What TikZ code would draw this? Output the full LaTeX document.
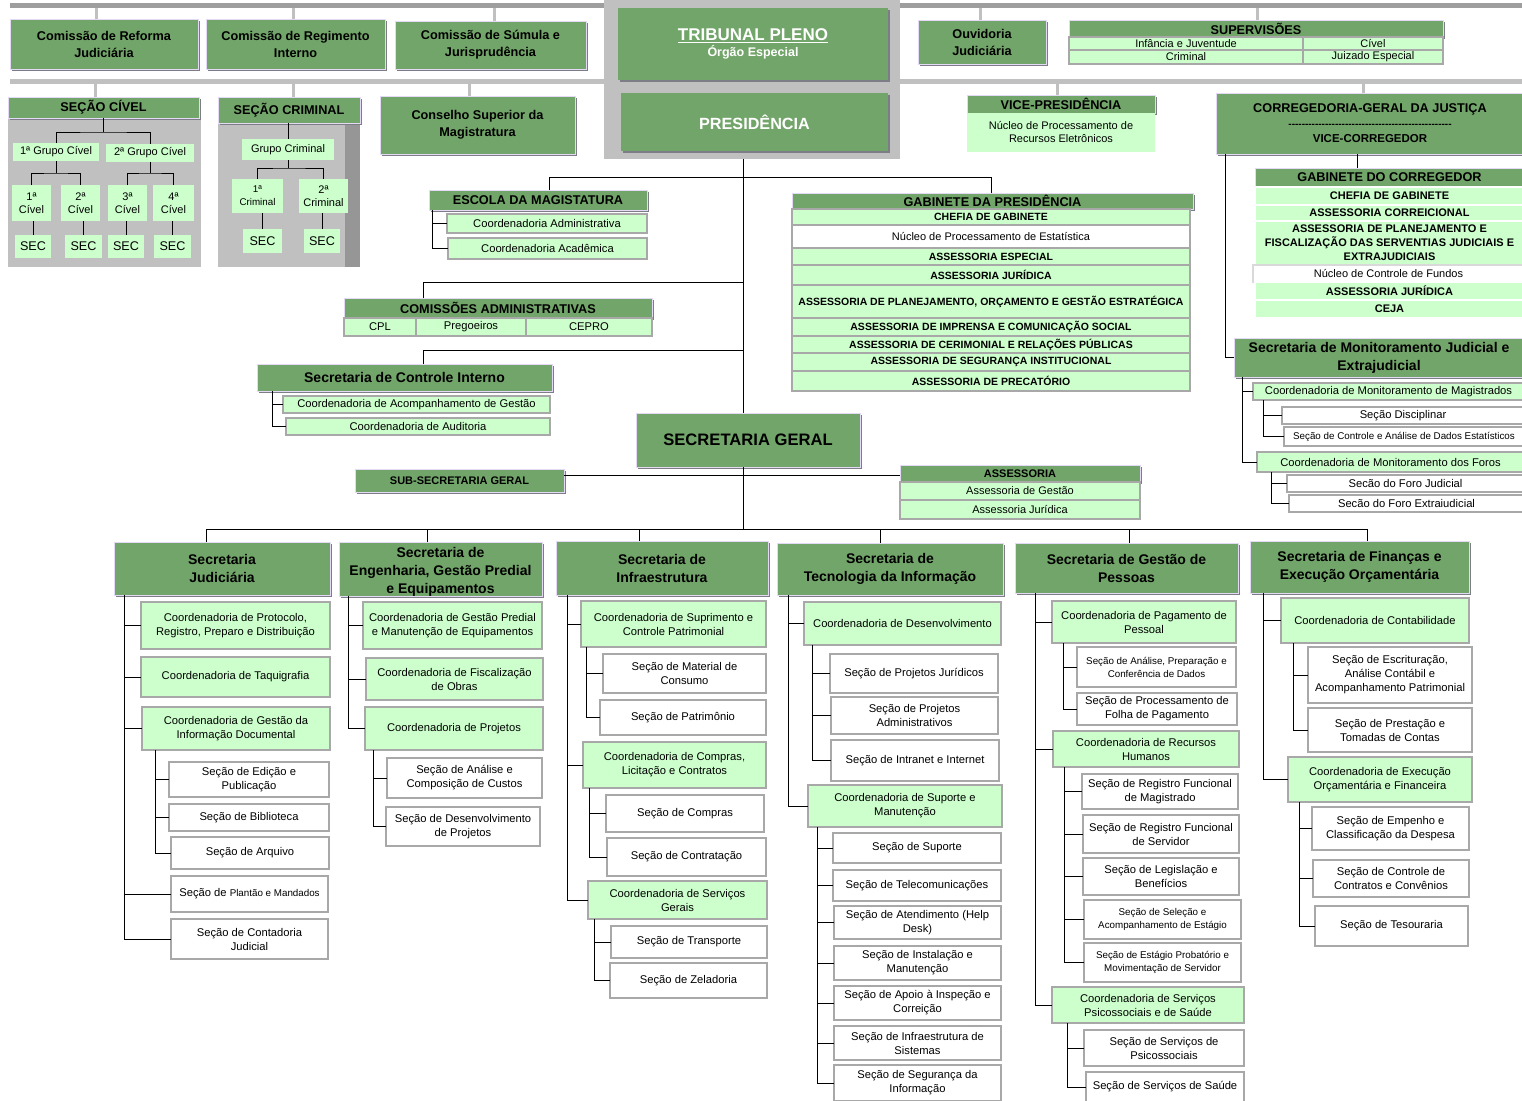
\documentclass[tikz,border=0pt]{standalone}
\usepackage{fontspec}
\setmainfont{Liberation Sans}
\usetikzlibrary{shadows}
\definecolor{dkg}{RGB}{114,165,105}
\definecolor{ltg}{RGB}{204,255,204}
\definecolor{pnl}{RGB}{192,192,192}
\definecolor{tbr}{RGB}{158,158,158}
\definecolor{bdr}{RGB}{168,168,168}
\definecolor{shd}{RGB}{125,125,135}
\definecolor{lav}{RGB}{228,218,245}
\definecolor{dstrip}{RGB}{150,150,150}
\newcommand\obox[7]{\node[#6,anchor=north west,minimum width={(#4-#2)*1pt},minimum height={(#5-#3)*1pt}] (#1) at (#2,#3) {#7};}
\newcommand\obrk[3]{\foreach \chld in {#3}{\draw[ln] ([xshift=#2pt]#1.south west) |- (\chld.west);}}
\newcommand\ofork[4]{\draw[ln] (#1.south) -- ++(0,#4) coordinate (#1j); \draw[ln] (#2.north) |- (#1j) -| (#3.north);}
\newcommand\ogc[4]{\draw[#4] ([xshift=#2pt]#1.north west) -- ([xshift=#2pt]#1.north west |- #3.south);}
\begin{document}
\begin{tikzpicture}[x=1pt,y=-1pt,
  base/.style={inner sep=0.5pt,outer sep=0pt,align=center,text=black},
  dk/.style={base,fill=dkg,draw=lav,line width=0.6pt,drop shadow={shadow xshift=2pt,shadow yshift=-2pt,fill=shd,opacity=1}},
  lt/.style={base,fill=ltg,draw=bdr,line width=1.2pt},
  ltn/.style={base,fill=ltg},
  wt/.style={base,fill=white,draw=bdr,line width=1.2pt},
  pan/.style={base,fill=pnl},
  ln/.style={draw=black,line width=0.8pt},
  gtop/.style={draw=pnl,line width=3pt},
  glow/.style={draw=pnl,line width=3pt},
  fR/.style={font=\fontsize{11.2}{14}\selectfont},
  fM/.style={font=\fontsize{11}{13}\selectfont},
  fS/.style={font=\fontsize{9.8}{13}\selectfont},
  fC/.style={font=\fontsize{12.6}{15}\selectfont},
  fH/.style={font=\bfseries\fontsize{12.7}{17}\selectfont},
  fT/.style={font=\bfseries\fontsize{14}{18}\selectfont},
  fB/.style={font=\bfseries\fontsize{10.5}{14}\selectfont},
  fBB/.style={font=\bfseries\fontsize{11}{14}\selectfont},
]
\useasboundingbox (0,0) rectangle (1522,1100);
\fill[white] (0,0) rectangle (1522,1100);

% ---- bars and grey panels
\obox{tbar}{10}{3}{1522}{8}{pan,fill=tbr}{}
\obox{lbar}{10}{79}{1522}{84}{pan}{}
\obox{ppan}{604}{0}{900}{159}{pan}{}
\obox{scpan}{8}{118}{201}{267}{pan}{}
\obox{scrpan}{218}{123}{360}{267}{pan}{}
\obox{scrstr}{345}{123}{360}{267}{pan,fill=dstrip}{}

% ---- top row
\obox{com1}{10}{19}{198}{69}{dk,fH}{Comissão de  Reforma\\Judiciária}
\obox{com2}{206}{19}{385}{69}{dk,fH}{Comissão de Regimento\\Interno}
\obox{com3}{395}{21}{586}{69}{dk,fH}{Comissão de Súmula e\\Jurisprudência}
\obox{trib}{618}{8}{888}{80}{dk,draw=none,text=white,font=\bfseries}{{\fontsize{17}{21}\selectfont\underline{TRIBUNAL PLENO}}\\[2pt]{\fontsize{12.5}{15}\selectfont Órgão Especial}}
\obox{pres}{621}{93}{888}{151}{dk,draw=none,text=white,font=\bfseries\fontsize{16.2}{19}\selectfont}{PRESIDÊNCIA}
\obox{ouv}{918}{20}{1046}{64}{dk,fH}{Ouvidoria\\Judiciária}
\obox{suph}{1069}{20}{1443}{37}{dk,fH}{SUPERVISÕES}
\obox{sup1}{1069}{37}{1303}{50}{lt,fM}{Infância e Juventude}
\obox{sup2}{1303}{37}{1443}{50}{lt,fM}{Cível}
\obox{sup3}{1069}{50}{1303}{64}{lt,fM}{Criminal}
\obox{sup4}{1303}{50}{1443}{64}{lt,fM}{Juizado Especial}

% ---- second row
\obox{sch}{8}{97}{199}{118}{dk,fH}{SEÇÃO CÍVEL}
\obox{g1}{13}{143}{99}{161}{ltn,fM}{1ª Grupo Cível}
\obox{g2}{106}{144}{194}{162}{ltn,fM}{2ª Grupo Cível}
\obox{c1}{12}{185}{51}{221}{ltn,fM}{1ª\\Cível}
\obox{c2}{61}{185}{100}{221}{ltn,fM}{2ª\\Cível}
\obox{c3}{108}{185}{147}{221}{ltn,fM}{3ª\\Cível}
\obox{c4}{153}{185}{194}{221}{ltn,fM}{4ª\\Cível}
\obox{s1}{15}{235}{51}{258}{ltn,fC}{SEC}
\obox{s2}{65}{235}{102}{258}{ltn,fC}{SEC}
\obox{s3}{108}{235}{144}{258}{ltn,fC}{SEC}
\obox{s4}{154}{235}{191}{258}{ltn,fC}{SEC}

\obox{scrh}{218}{97}{360}{123}{dk,fH}{SEÇÃO CRIMINAL}
\obox{gcr}{242}{139}{334}{160}{ltn,fM}{Grupo Criminal}
\obox{cr1}{232}{179}{283}{213}{ltn,fS}{1ª\\Criminal}
\obox{cr2}{299}{179}{348}{213}{ltn,fM}{2ª\\Criminal}
\obox{s5}{243}{229}{282}{253}{ltn,fC}{SEC}
\obox{s6}{304}{229}{340}{253}{ltn,fC}{SEC}

\obox{cons}{380}{96}{575}{154}{dk,fH}{Conselho Superior da\\Magistratura}

\obox{viceh}{967}{95}{1155}{113}{dk,fH}{VICE-PRESIDÊNCIA}
\obox{viceb}{967}{113}{1155}{152}{ltn,fM}{Núcleo de Processamento de\\Recursos Eletrônicos}
\obox{corr}{1216}{93}{1524}{154}{dk,font=\bfseries\fontsize{12.7}{15}\selectfont}{CORREGEDORIA-GERAL DA JUSTIÇA\\{\fontsize{10}{14}\selectfont\hbox to 165pt{\cleaders\hbox{-}\hfill}}\\{\fontsize{11.5}{14}\selectfont VICE-CORREGEDOR}}

% ---- Escola
\obox{esc}{429}{190}{647}{210}{dk,fH}{ESCOLA DA MAGISTATURA}
\obox{ea}{447}{214}{647}{233}{lt,fR}{Coordenadoria Administrativa}
\obox{eb}{448}{238}{647}{259}{lt,fR}{Coordenadoria Acadêmica}

% ---- Comissoes administrativas
\obox{ca}{344}{298}{652}{318}{dk,fH}{COMISSÕES ADMINISTRATIVAS}
\obox{ca1}{344}{318}{416}{336}{lt,fR}{CPL}
\obox{ca2}{416}{318}{526}{336}{lt,fR}{Pregoeiros}
\obox{ca3}{526}{318}{652}{336}{lt,fR}{CEPRO}

% ---- Controle interno
\obox{sci}{257}{364}{552}{391}{dk,fT}{Secretaria de Controle Interno}
\obox{sci1}{283}{396}{550}{413}{lt,fR}{Coordenadoria de Acompanhamento de Gestão}
\obox{sci2}{286}{418}{550}{435}{lt,fR}{Coordenadoria de Auditoria}

% ---- Gabinete da Presidencia
\obox{gab}{792}{193}{1193}{209}{dk,fH}{GABINETE DA PRESIDÊNCIA}
\obox{gb1}{792}{209}{1190}{225}{lt,fB}{CHEFIA DE GABINETE}
\obox{gb2}{792}{225}{1190}{248}{wt,fM}{Núcleo de Processamento de Estatística}
\obox{gb3}{792}{248}{1190}{265}{lt,fB}{ASSESSORIA ESPECIAL}
\obox{gb4}{792}{265}{1190}{285}{lt,fB}{ASSESSORIA JURÍDICA}
\obox{gb5}{792}{285}{1190}{318}{lt,fB}{ASSESSORIA DE PLANEJAMENTO, ORÇAMENTO E GESTÃO ESTRATÉGICA}
\obox{gb6}{792}{318}{1190}{336}{lt,fB}{ASSESSORIA DE IMPRENSA E COMUNICAÇÃO SOCIAL}
\obox{gb7}{792}{336}{1190}{353}{lt,fB}{ASSESSORIA DE CERIMONIAL E RELAÇÕES PÚBLICAS}
\obox{gb8}{792}{353}{1190}{371}{lt,fB}{ASSESSORIA DE SEGURANÇA INSTITUCIONAL}
\obox{gb9}{792}{371}{1190}{391}{lt,fB}{ASSESSORIA DE PRECATÓRIO}

% ---- Gabinete do Corregedor
\obox{gch}{1255}{168}{1524}{187}{dk,fH}{GABINETE DO CORREGEDOR}
\obox{gc1}{1255}{187}{1524}{205}{lt,draw=white,fBB}{CHEFIA DE GABINETE}
\obox{gc2}{1255}{205}{1524}{221}{lt,draw=white,fBB}{ASSESSORIA CORREICIONAL}
\obox{gc3}{1255}{221}{1524}{265}{lt,draw=white,fBB}{ASSESSORIA DE PLANEJAMENTO E\\FISCALIZAÇÃO DAS SERVENTIAS JUDICIAIS E\\EXTRAJUDICIAIS}
\obox{gc4}{1253}{265}{1524}{282}{wt,draw=black!15,fM}{Núcleo de Controle de Fundos}
\obox{gc5}{1255}{282}{1524}{300}{lt,draw=white,fBB}{ASSESSORIA JURÍDICA}
\obox{gc6}{1255}{300}{1524}{318}{lt,draw=white,fBB}{CEJA}

% ---- Monitoramento
\obox{smj}{1234}{338}{1524}{377}{dk,fT}{Secretaria de Monitoramento Judicial e\\Extrajudicial}
\obox{mc1}{1253}{383}{1524}{400}{lt,fR}{Coordenadoria de Monitoramento de Magistrados}
\obox{ms1}{1282}{407}{1524}{424}{wt,fR}{Seção Disciplinar}
\obox{ms2}{1284}{427}{1524}{446}{wt,fS}{Seção de Controle e Análise de Dados Estatísticos}
\obox{mc2}{1257}{452}{1524}{472}{lt,fR}{Coordenadoria de Monitoramento dos Foros}
\obox{ms3}{1287}{475}{1524}{492}{wt,fR}{Secão do Foro Judicial}
\obox{ms4}{1289}{495}{1524}{512}{wt,fR}{Secão do Foro Extraiudicial}

% ---- Secretaria Geral
\obox{sg}{636}{413}{860}{467}{dk,font=\bfseries\fontsize{16.6}{20}\selectfont}{SECRETARIA GERAL}
\obox{sub}{355}{469}{564}{492}{dk,font=\bfseries\fontsize{11}{13}\selectfont}{SUB-SECRETARIA GERAL}
\obox{asrh}{900}{465}{1140}{482}{dk,font=\bfseries\fontsize{11}{13}\selectfont}{ASSESSORIA}
\obox{asr1}{900}{482}{1140}{500}{lt,fM}{Assessoria de Gestão}
\obox{asr2}{900}{500}{1140}{519}{lt,fM}{Assessoria Jurídica}

% ---- Secretarias
\obox{sj}{114}{542}{330}{595}{dk,fT}{Secretaria\\Judiciária}
\obox{se}{339}{542}{542}{595}{dk,fT,inner sep=0pt}{\rule{0pt}{15pt}Secretaria de\\Engenharia, Gestão Predial\\e Equipamentos}
\obox{si}{556}{541}{768}{595}{dk,fT}{Secretaria de\\Infraestrutura}
\obox{st}{777}{543}{1003}{595}{dk,fT}{Secretaria de\\Tecnologia da Informação}
\obox{sp}{1015}{543}{1238}{593}{dk,fT}{Secretaria de Gestão de\\Pessoas}
\obox{sf}{1250}{541}{1469}{593}{dk,fT}{Secretaria de Finanças e\\Execução Orçamentária}

% Judiciaria
\obox{jp1}{141}{602}{330}{649}{lt,fR}{Coordenadoria de Protocolo,\\Registro, Preparo e Distribuição}
\obox{jp2}{141}{657}{330}{697}{lt,fR}{Coordenadoria de Taquigrafia}
\obox{jp3}{142}{707}{330}{750}{lt,fR}{Coordenadoria de Gestão da\\Informação Documental}
\obox{js1}{169}{762}{329}{797}{wt,fR}{Seção de Edição e\\Publicação}
\obox{js2}{169}{804}{329}{831}{wt,fR}{Seção de Biblioteca}
\obox{js3}{171}{837}{329}{869}{wt,fR}{Seção de Arquivo}
\obox{jp4}{171}{876}{328}{912}{wt,fR}{Seção de {\fontsize{9.8}{12}\selectfont Plantão e Mandados}}
\obox{jp5}{171}{919}{328}{959}{wt,fR}{Seção de  Contadoria\\Judicial}

% Engenharia
\obox{ep1}{363}{602}{542}{649}{lt,fR}{Coordenadoria de Gestão Predial\\e Manutenção de Equipamentos}
\obox{ep2}{366}{658}{543}{700}{lt,fR}{Coordenadoria de Fiscalização\\de Obras}
\obox{ep3}{365}{707}{543}{750}{lt,fR}{Coordenadoria de Projetos}
\obox{es1}{387}{758}{542}{798}{wt,fR}{Seção de Análise e\\Composição de Custos}
\obox{es2}{386}{807}{540}{846}{wt,fR}{Seção de Desenvolvimento\\de Projetos}

% Infraestrutura
\obox{ip1}{581}{601}{766}{647}{lt,fR}{Coordenadoria de Suprimento e\\Controle Patrimonial}
\obox{is1}{603}{654}{766}{693}{wt,fR}{Seção de Material de\\Consumo}
\obox{is2}{600}{700}{766}{735}{wt,fR}{Seção de Patrimônio}
\obox{ip2}{583}{742}{766}{788}{lt,fR}{Coordenadoria de Compras,\\Licitação e Contratos}
\obox{is3}{606}{795}{764}{832}{wt,fR}{Seção de Compras}
\obox{is4}{607}{838}{766}{876}{wt,fR}{Seção de Contratação}
\obox{ip3}{588}{881}{767}{919}{lt,fR}{Coordenadoria de Serviços\\Gerais}
\obox{is5}{611}{926}{767}{958}{wt,fR}{Seção de Transporte}
\obox{is6}{610}{963}{767}{998}{wt,fR}{Seção de Zeladoria}

% TI
\obox{tp1}{804}{602}{1001}{645}{lt,fR}{Coordenadoria de  Desenvolvimento}
\obox{ts1}{830}{654}{998}{693}{wt,fR}{Seção de Projetos Jurídicos}
\obox{ts2}{831}{697}{998}{734}{wt,fR}{Seção de Projetos\\Administrativos}
\obox{ts3}{831}{740}{999}{781}{wt,fR}{Seção de Intranet e Internet}
\obox{tp2}{808}{785}{1002}{827}{lt,fR}{Coordenadoria de Suporte e\\Manutenção}
\obox{ts4}{833}{833}{1001}{863}{wt,fR}{Seção de Suporte}
\obox{ts5}{833}{870}{1001}{901}{wt,fR}{Seção de Telecomunicações}
\obox{ts6}{834}{906}{1001}{939}{wt,fR}{Seção de Atendimento (Help\\Desk)}
\obox{ts7}{834}{946}{1001}{980}{wt,fR}{Seção de Instalação e\\Manutenção}
\obox{ts8}{834}{986}{1001}{1020}{wt,fR}{Seção de  Apoio à Inspeção e\\Correição}
\obox{ts9}{834}{1026}{1001}{1060}{wt,fR}{Seção de Infraestrutura de\\Sistemas}
\obox{ts10}{834}{1065}{1001}{1101}{wt,fR}{Seção de Segurança da\\Informação}

% Gestao de Pessoas
\obox{pp1}{1052}{601}{1236}{643}{lt,fR}{Coordenadoria de Pagamento de\\Pessoal}
\obox{ps1}{1077}{647}{1236}{687}{wt,fS}{Seção de Análise, Preparação e\\Conferência de Dados}
\obox{ps2}{1077}{693}{1237}{725}{wt,fR}{Seção de Processamento de\\Folha de Pagamento}
\obox{pp2}{1053}{731}{1239}{767}{lt,fR}{Coordenadoria de Recursos\\Humanos}
\obox{ps3}{1082}{774}{1238}{809}{wt,fR}{Seção de Registro Funcional\\de Magistrado}
\obox{ps4}{1083}{815}{1239}{853}{wt,fR}{Seção de Registro Funcional\\de Servidor}
\obox{ps5}{1083}{858}{1239}{895}{wt,fR}{Seção de Legislação e\\Benefícios}
\obox{ps6}{1084}{900}{1241}{939}{wt,fS}{Seção de Seleção e\\Acompanhamento de  Estágio}
\obox{ps7}{1084}{943}{1241}{982}{wt,fS}{Seção de Estágio Probatório e\\Movimentação de Servidor}
\obox{pp3}{1052}{987}{1244}{1023}{lt,fR}{Coordenadoria de Serviços\\Psicossociais e de Saúde}
\obox{ps8}{1084}{1030}{1244}{1066}{wt,fR}{Seção de Serviços de\\Psicossociais}
\obox{ps9}{1086}{1072}{1244}{1102}{wt,fR}{Seção de Serviços de Saúde}

% Financas
\obox{fp1}{1281}{598}{1469}{643}{lt,fR}{Coordenadoria de Contabilidade}
\obox{fs1}{1308}{647}{1472}{703}{wt,fR}{Seção de Escrituração,\\Análise Contábil e\\Acompanhamento Patrimonial}
\obox{fs2}{1308}{708}{1472}{752}{wt,fR}{Seção de Prestação e\\Tomadas de  Contas}
\obox{fp2}{1288}{757}{1472}{802}{lt,fR}{Coordenadoria de Execução\\Orçamentária e Financeira}
\obox{fs3}{1312}{807}{1469}{850}{wt,fR}{Seção de Empenho e\\Classificação da Despesa}
\obox{fs4}{1313}{860}{1469}{897}{wt,fR}{Seção de Controle de\\Contratos e Convênios}
\obox{fs5}{1315}{906}{1468}{946}{wt,fR}{Seção de Tesouraria}

% ================= connectors
% grey connectors from bars
\ogc{com1}{86}{tbar}{gtop}
\ogc{com2}{87}{tbar}{gtop}
\ogc{com3}{99}{tbar}{gtop}
\ogc{ouv}{62}{tbar}{gtop}
\ogc{suph}{188}{tbar}{gtop}
\ogc{sch}{87}{lbar}{glow}
\ogc{scrh}{75}{lbar}{glow}
\ogc{cons}{89}{lbar}{glow}
\ogc{viceh}{90}{lbar}{glow}
\ogc{corr}{147}{lbar}{glow}

% Secao civel / criminal
\ofork{sch}{g1}{g2}{14}
\ofork{g1}{c1}{c2}{12}
\ofork{g2}{c3}{c4}{11}
\draw[ln] (s1.north) -- (s1.north |- c1.south);
\draw[ln] (s2.north) -- (s2.north |- c2.south);
\draw[ln] (s3.north) -- (s3.north |- c3.south);
\draw[ln] (s4.north) -- (s4.north |- c4.south);
\draw[ln] (gcr.north |- scrh.south) -- (gcr.north);
\ofork{gcr}{cr1}{cr2}{8}
\draw[ln] (s5.north) -- (s5.north |- cr1.south);
\draw[ln] (s6.north) -- (s6.north |- cr2.south);

% trunk
\coordinate (jtop) at (743,177);
\coordinate (jca) at (743,282);
\coordinate (jsci) at (743,350);
\coordinate (jbus) at (743,529);
\draw[ln] (jtop |- ppan.south) -- ([xshift=107pt]sg.north west);
\draw[ln] ([xshift=107pt]sg.south west) -- (jbus);
\draw[ln] ([xshift=120pt]esc.north west) |- (jtop);
\draw[ln] ([xshift=199pt]gab.north west) |- (jtop);
\draw[ln] ([xshift=79pt]ca.north west) |- (jca);
\draw[ln] ([xshift=166pt]sci.north west) |- (jsci);
\draw[ln] ([yshift=5.5pt]sub.east) -- ([yshift=5.5pt]sub.east -| asrh.west);
\obrk{esc}{3}{ea,eb}
\obrk{sci}{15}{sci1,sci2}

% corregedoria
\draw[ln] ([xshift=141pt]corr.south west) -- ([xshift=141pt]corr.south west |- gch.north);
\draw[ln] ([xshift=9pt]corr.south west) |- (smj.west);
\obrk{smj}{8}{mc1,mc2}
\obrk{mc1}{10}{ms1,ms2}
\obrk{mc2}{14}{ms3,ms4}

% bus to secretarias
\draw[ln] ([xshift=92pt]sj.north west) |- (jbus);
\draw[ln] ([xshift=88pt]se.north west) |- (jbus);
\draw[ln] ([xshift=83pt]si.north west) |- (jbus);
\draw[ln] ([xshift=103pt]st.north west) |- (jbus);
\draw[ln] ([xshift=114pt]sp.north west) |- (jbus);
\draw[ln] ([xshift=117pt]sf.north west) |- (jbus);

% brackets
\obrk{sj}{10}{jp1,jp2,jp3,jp4,jp5}
\obrk{jp3}{13}{js1,js2,js3}
\obrk{se}{9}{ep1,ep2,ep3}
\obrk{ep3}{8}{es1,es2}
\obrk{si}{11}{ip1,ip2,ip3}
\obrk{ip1}{5}{is1,is2}
\obrk{ip2}{6}{is3,is4}
\obrk{ip3}{6}{is5,is6}
\obrk{st}{11}{tp1,tp2}
\obrk{tp1}{8}{ts1,ts2,ts3}
\obrk{tp2}{9}{ts4,ts5,ts6,ts7,ts8,ts9,ts10}
\obrk{sp}{20}{pp1,pp2,pp3}
\obrk{pp1}{11}{ps1,ps2}
\obrk{pp2}{11}{ps3,ps4,ps5,ps6,ps7}
\obrk{pp3}{15}{ps8,ps9}
\obrk{sf}{13}{fp1,fp2}
\obrk{fp1}{12}{fs1,fs2}
\obrk{fp2}{11}{fs3,fs4,fs5}
\end{tikzpicture}
\end{document}
